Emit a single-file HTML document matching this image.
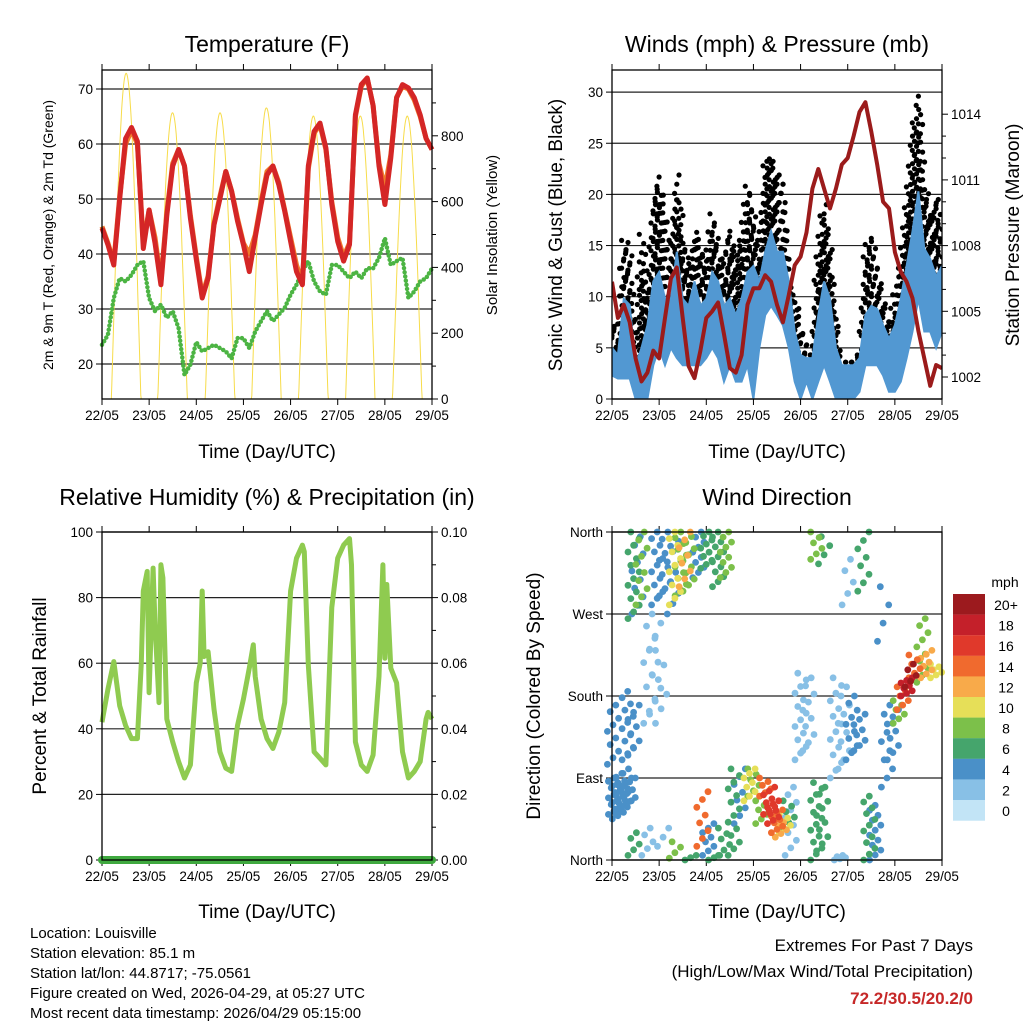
<!DOCTYPE html>
<html><head><meta charset="utf-8"><title>Station meteogram</title>
<style>
html,body{margin:0;padding:0;background:#fff;}
svg{display:block;font-family:"Liberation Sans",Arial,sans-serif;}
</style></head>
<body>
<svg id="chart" width="1024" height="1024" viewBox="0 0 1024 1024" xmlns="http://www.w3.org/2000/svg">
<rect x="0" y="0" width="1024" height="1024" fill="#fff"/>
<text x="267" y="52" font-size="23" text-anchor="middle">Temperature (F)</text>
<text x="777" y="52" font-size="23" text-anchor="middle">Winds (mph) &amp; Pressure (mb)</text>
<text x="267" y="505" font-size="23" text-anchor="middle">Relative Humidity (%) &amp; Precipitation (in)</text>
<text x="777" y="505" font-size="23" text-anchor="middle">Wind Direction</text>
<text x="267" y="458" font-size="19" text-anchor="middle">Time (Day/UTC)</text>
<text x="777" y="458" font-size="19" text-anchor="middle">Time (Day/UTC)</text>
<text x="267" y="918" font-size="19" text-anchor="middle">Time (Day/UTC)</text>
<text x="777" y="918" font-size="19" text-anchor="middle">Time (Day/UTC)</text>
<text transform="translate(53,235) rotate(-90)" font-size="14" text-anchor="middle">2m &amp; 9m T (Red, Orange) &amp; 2m Td (Green)</text>
<text transform="translate(497,235) rotate(-90)" font-size="15" text-anchor="middle">Solar Insolation (Yellow)</text>
<text transform="translate(562,235) rotate(-90)" font-size="19" text-anchor="middle">Sonic Wind &amp; Gust (Blue, Black)</text>
<text transform="translate(1019,235) rotate(-90)" font-size="19" text-anchor="middle">Station Pressure (Maroon)</text>
<text transform="translate(46,696) rotate(-90)" font-size="19" text-anchor="middle">Percent &amp; Total Rainfall</text>
<text transform="translate(540,696) rotate(-90)" font-size="19" text-anchor="middle">Direction (Colored By Speed)</text>
<g font-size="15">
<text x="30" y="938">Location: Louisville</text>
<text x="30" y="958">Station elevation: 85.1 m</text>
<text x="30" y="978">Station lat/lon: 44.8717; -75.0561</text>
<text x="30" y="998">Figure created on Wed, 2026-04-29, at 05:27 UTC</text>
<text x="30" y="1018">Most recent data timestamp: 2026/04/29 05:15:00</text>
</g>
<text x="973" y="951" font-size="17" text-anchor="end">Extremes For Past 7 Days</text>
<text x="973" y="977" font-size="17" text-anchor="end">(High/Low/Max Wind/Total Precipitation)</text>
<text x="973" y="1004" font-size="17" font-weight="bold" fill="#c62828" text-anchor="end">72.2/30.5/20.2/0</text>
<text x="1005" y="587" font-size="14" text-anchor="middle">mph</text>
</svg>
<script>
// ---------- data ----------
const days = ["22/05","23/05","24/05","25/05","26/05","27/05","28/05","29/05"];
const hours3 = [0,3,6,9,12,15,18,21,24,27,30,33,36,39,42,45,48,51,54,57,60,63,66,69,72,75,78,81,84,87,90,93,96,99,102,105,108,111,114,117,120,123,126,129,132,135,138,141,144,147,150,153,156,159,162,165,168];
const tempRed = [44.7,41.7,38,50,61,63,60.5,41,48,42,34.4,47,56,59,56,46.5,39,32,35.6,45.3,50,55,51.4,46,41.7,36.8,43,49,54.4,56,52.6,47.8,42.3,36.8,34.4,56,62.3,63.8,59.3,49,42.3,38.7,41.7,65.3,70.8,72,67,56,49,57.5,68.4,70.8,70.2,68.4,65.3,61,59];
const tempOrange = [45,42,38.5,50.5,60,62.5,60,42,48,43,35,47.5,56.5,59,56,47,39.5,32.5,36,45.5,50.5,55,51.5,46.5,42,40,43.5,49.5,55,56,53,48,43,38,34.8,55.5,62,63.5,59,49.5,43,39.5,42,65,70.5,72,67,56.5,52,58,68.5,70.5,70,68,65,61,59];
const dewGreen = [23.5,25.3,32,35.6,35,36.2,38,38.7,32,29.6,30.8,28.4,29.6,26.5,18,19.9,24,22.3,22.9,23.5,22.9,22.3,21,24.7,24.7,22.9,25.9,27.8,29.6,27.8,29,30.2,32.6,34.4,36.8,38.7,35,33.2,32.6,38,38,36.8,35.6,36.8,35.6,37.4,37.4,39.3,42.9,38,38.7,39.3,32,33.2,35,35.6,37.4];
const solarPeakHours = [12.3,35.9,60.1,83.7,107.6,131.5,155.4];
const solarPeakValues = [990,870,870,885,860,860,860];
const pressure = [1006.35,1004.7,1005.3,1004.5,1002.85,1001.8,1002.2,1003.2,1002.85,1004.7,1006.5,1007,1004.7,1002.5,1001.95,1003.2,1004.7,1005,1005.4,1003.95,1002.4,1002.2,1003,1005.3,1006.05,1006.05,1006.65,1006.35,1005.3,1004.5,1005.75,1007.1,1007.5,1008.6,1010.6,1011.5,1010.6,1009.7,1010.6,1011.7,1012,1013,1014.1,1014.55,1013.2,1011.7,1010,1009.7,1007.7,1006.8,1006.35,1005.6,1004.1,1002.85,1001.6,1002.55,1002.4];
const windMax = [5,4.3,9.8,9.2,3.3,5,7.2,11.5,12.4,9.8,9.8,14.4,9.8,9.1,11.5,9.1,9.8,12.4,11.5,9.1,9.8,8.2,9.8,12.4,13,11.5,14.4,16.4,14.4,14.4,11.5,6.6,4.3,4,4,8.2,11.5,9.8,5,3.3,3.3,3.3,4,8.2,9.1,8.8,7.2,5.9,7.2,9.8,13,16.4,20.3,14.7,13.7,12,13];
const windMin = [2.3,2,2,2,0,0,0,3.3,5,3.3,5,4,3.3,3.3,3.3,3.3,4,5,4,1.7,3.3,1.7,1.7,3.3,0,5,8.2,9.1,8.2,7.2,5,1.7,0,1.7,0,1.7,3.3,1.7,0,0,0,0,0.7,3.3,3.3,3.3,2.3,0.7,0.7,1.7,4,6.6,9.8,6.6,6.6,5,6.6];
const gustMax = [8.2,6.9,16,14.4,4,16.4,9.8,19.6,21.9,18.6,14.4,22.5,15.7,13,16.4,15.4,13,18.3,15,13,17,14.4,15.7,21.6,18,14.4,23.5,23.8,22.2,21.2,13,9.8,7.9,5,6.6,14.7,19.6,14.7,8.2,3.3,4,4.3,5,14.7,16,13,9.8,7.2,10.5,13,18.9,26,29.7,21.2,18,20.3,16.4];
const rhHours = [0,3,6,9,12,15,18,20,21,23,24,26,27,29,30,31,33,36,39,42,45,48,50,51,52,54,57,60,63,66,69,72,75,77,78,81,84,87,90,93,96,99,102,103,105,108,111,114,117,120,123,126,127,129,132,135,138,141,143,144,145,147,150,153,156,159,162,165,166,168];
const rhValues = [42,52,60.5,47,41,37,37,60,82,88,51,89,72,48,90,86,43,36,30,25,29,54,60,82,62,63.5,46,33,28,27,41,49,58.5,65.6,56,43,37,34,39,48,82,92,96,94,59.5,33,31,29,77,92,96,98,90,36,29,27,32,56,90,61.5,84,58.5,54,33,25,27,30,43,45,43];
const rainTotal = [0,0];
const dirHours = [1,3,5,7,9,0.5,8,11,11,13,15,19,22,25,23,27,31,32,35,37,39,44,48,54,58,11,18,26,32,40,46,49,52,57,62,65,70,72,76,78,80,82,84,86,88,90,91,96,100,104,107,104,108,114,118,122,126,116,128,131,134,140,143,146,148,150,152,154,158,160,165,120,138];
const dirStart = [50,45,50,55,60,105,110,115,265,270,280,150,160,150,280,290,270,280,290,300,295,310,320,300,310,5,5,15,2,0,15,5,0,5,5,40,65,70,40,70,50,40,30,25,30,35,5,110,120,0,10,330,325,90,100,110,120,0,295,0,0,80,110,150,165,180,190,200,195,200,200,280,240];
const dirEnd = [90,85,95,100,90,170,185,170,360,355,360,270,260,230,360,360,350,360,360,360,355,360,360,360,360,30,35,35,20,5,75,40,5,35,100,100,100,100,65,90,80,65,55,45,50,65,80,205,200,85,80,360,355,200,190,180,160,5,360,70,60,170,165,175,190,200,215,225,265,230,215,330,300];
const dirSpeed = [4,4,4,3,4,4,4,4,6,4,7,2,1,1,4,4,3,10,8,12,7,4,5,6,7,6,1,1,7,6,13,4,5,6,5,4,10,8,7,14,16,15,13,12,9,6,2,1,1,6,5,8,6,2,2,3,4,2,5,6,4,3,4,8,14,18,20,14,7,11,10,2,3];
const dirCount = [12,12,12,10,8,10,12,8,14,10,10,10,8,6,12,10,8,12,12,8,10,10,10,12,10,5,5,3,4,3,8,8,3,6,14,8,8,6,6,6,8,8,8,6,6,6,10,14,10,14,10,6,4,14,10,10,8,5,8,12,12,10,8,6,6,8,5,6,10,8,6,5,4];
const cbLabels = ["20+","18","16","14","12","10","8","6","4","2","0"];
const cbColors = ["#9c1a1e","#c4202a","#e0392b","#f06a2e","#f8aa4a","#e6df58","#7cc04a","#45a56c","#4a90c8","#88c0e6","#c2e4f6"];

// ---------- helpers ----------
const NS = "http://www.w3.org/2000/svg";
const svg = document.getElementById("chart");
function add(parent, tag, attrs){ const e=document.createElementNS(NS,tag); for(const k in attrs) e.setAttribute(k,attrs[k]); parent.appendChild(e); return e; }
function grp(nm){ const g=add(svg,"g",{});
 
 
 return g; }
function speedColor(s){ let i=Math.round(s/2); if(i>10)i=10; if(i<0)i=0; return cbColors[10-i]; }

const P1={x0:102,x1:432,y0:70,y1:399}, P2={x0:612,x1:942,y0:70,y1:399}, P3={x0:102,x1:432,y0:532,y1:860}, P4={x0:612,x1:942,y0:532,y1:860};
function xh(h,P){ return P.x0 + h/168*(P.x1-P.x0); }
const yT = t => 364-(t-20)*5.5;
const yS = s => 399-s*0.329;
const yW = w => 399-w*10.23;
const yP = p => 377-(p-1002)*21.9;
const yR = r => 860-r*3.28;
const yRain = v => 860-v*3280;
const yD = d => 860-d/360*328;

function pathFrom(xs, ys){ return xs.map((x,i)=>(i?"L":"M")+x.toFixed(1)+" "+ys[i].toFixed(1)).join(" "); }

// ---------- grids, ticks, frames ----------
function xAxis(P, nm){
 const g=grp(nm);
 days.forEach((d,i)=>{
  const x=P.x0+i*(P.x1-P.x0)/7;
  const t=add(g,"line",{x1:x,x2:x,y1:P.y1,y2:P.y1+6,stroke:"#000","stroke-width":1});
  
  
  const t2=add(g,"line",{x1:x,x2:x,y1:P.y0,y2:P.y0-6,stroke:"#000","stroke-width":1});
  
  
  const l=add(g,"text",{x:x,y:P.y1+21,"font-size":13.5,"text-anchor":"middle"}); l.textContent=d;
  
  
 });
}
function yGrid(P, vals, yf, labels, nm, side){
 const g=grp(nm);
 vals.forEach((v,i)=>{
  const y=yf(v);
  if(side==="left"){
   const gl=add(g,"line",{x1:P.x0,x2:P.x1,y1:y,y2:y,stroke:"#222","stroke-width":1.2});
   
   
   const t=add(g,"line",{x1:P.x0-6,x2:P.x0,y1:y,y2:y,stroke:"#000"});
   
   
   const l=add(g,"text",{x:P.x0-9,y:y+5,"font-size":13.5,"text-anchor":"end"}); l.textContent=labels[i];
   
   
  } else {
   const t=add(g,"line",{x1:P.x1,x2:P.x1+6,y1:y,y2:y,stroke:"#000"});
   
   
   const l=add(g,"text",{x:P.x1+9,y:y+5,"font-size":13.5,"text-anchor":"start"}); l.textContent=labels[i];
   
   
  }
 });
}
function minorTicks(P, vals, yf, nm){
 const g=grp(nm);
 vals.forEach(v=>{ const y=yf(v);
  const t=add(g,"line",{x1:P.x1,x2:P.x1+4,y1:y,y2:y,stroke:"#000"});
  
  
 });
}
function frame(P,nm){
 const r=add(svg,"rect",{x:P.x0,y:P.y0,width:P.x1-P.x0,height:P.y1-P.y0,fill:"none",stroke:"#000","stroke-width":1.3});
 
 
}

yGrid(P1,[20,30,40,50,60,70],yT,["20","30","40","50","60","70"],"temperature-y-axis","left");
yGrid(P1,[0,200,400,600,800],yS,["0","200","400","600","800"],"solar-y-axis","right");
minorTicks(P1,[100,300,500,700,900],yS,"solar-minor-ticks");
yGrid(P2,[0,5,10,15,20,25,30],yW,["0","5","10","15","20","25","30"],"wind-y-axis","left");
yGrid(P2,[1002,1005,1008,1011,1014],yP,["1002","1005","1008","1011","1014"],"pressure-y-axis","right");
minorTicks(P2,[1003,1004,1006,1007,1009,1010,1012,1013],yP,"pressure-minor-ticks");
yGrid(P3,[0,20,40,60,80,100],yR,["0","20","40","60","80","100"],"humidity-y-axis","left");
yGrid(P3,[0,0.02,0.04,0.06,0.08,0.1],yRain,["0.00","0.02","0.04","0.06","0.08","0.10"],"rain-y-axis","right");
minorTicks(P3,[0.01,0.03,0.05,0.07,0.09],yRain,"rain-minor-ticks");
yGrid(P4,[0,90,180,270,360],yD,["North","East","South","West","North"],"direction-y-axis","left");
[P1,P2,P3,P4].forEach((P,i)=>xAxis(P,"x-axis-"+(i+1)));

// ---------- panel 1: temperature ----------
const g1=grp("temperature-series");
(function(){
 const xs=[], ys=[];
 for(let h=0;h<=168;h+=0.25){
  let v=0;
  solarPeakHours.forEach((ph,i)=>{ const d=h-ph; if(Math.abs(d)<7.5) v=Math.max(v, solarPeakValues[i]*Math.cos(d/7.5*Math.PI/2)); });
  xs.push(xh(h,P1)); ys.push(yS(v));
 }
 const p=add(g1,"path",{d:pathFrom(xs,ys),fill:"none",stroke:"#f7dc4a","stroke-width":1});
 
 
})();
const xs1=hours3.map(h=>xh(h,P1));
const dew=add(g1,"path",{d:pathFrom(xs1,dewGreen.map(yT)),fill:"none",stroke:"#4cb443","stroke-width":4.5,"stroke-dasharray":"0 4.2","stroke-linecap":"round","stroke-linejoin":"round"});


const orl=add(g1,"path",{d:pathFrom(xs1,tempOrange.map(yT)),fill:"none",stroke:"#f07a2c","stroke-width":5,"stroke-linejoin":"round"});


const rdl=add(g1,"path",{d:pathFrom(xs1,tempRed.map(yT)),fill:"none",stroke:"#d42626","stroke-width":5,"stroke-linejoin":"round"});



// ---------- panel 2: wind ----------
const g2=grp("wind-series");
const cp=add(svg,"clipPath",{id:"clip2"}); add(cp,"rect",{x:P2.x0,y:P2.y0,width:P2.x1-P2.x0,height:P2.y1-P2.y0});
g2.setAttribute("clip-path","url(#clip2)");
const gustG=add(g2,"g",{fill:"#000"});


for(let i=0;i<hours3.length-1;i++){
 for(let s=0;s<3;s++){
  const f=s/3, h=hours3[i]+3*f;
  const gm=gustMax[i]+(gustMax[i+1]-gustMax[i])*f;
  const bm=windMax[i]+(windMax[i+1]-windMax[i])*f;
  let k=0;
  for(let v=bm-1.5; v<=gm; v+=0.9){
   k++;
   const c=add(gustG,"circle",{cx:(xh(h,P2)+((s*5+k)%3-1)*2.2).toFixed(1),cy:yW(v).toFixed(1),r:2.6});
   
   
  }
 }
}
const xs2=hours3.map(h=>xh(h,P2));
const band=add(g2,"path",{d:pathFrom(xs2.concat(xs2.slice().reverse()), windMax.map(yW).concat(windMin.map(yW).reverse()))+"Z",fill:"#5298d2",stroke:"#5298d2","stroke-width":2});


const pl=add(g2,"path",{d:pathFrom(xs2,pressure.map(yP)),fill:"none",stroke:"#9b1b1b","stroke-width":4,"stroke-linejoin":"round"});



// ---------- panel 3: humidity ----------
const g3=grp("humidity-series");
const rh=add(g3,"path",{d:pathFrom(rhHours.map(h=>xh(h,P3)),rhValues.map(yR)),fill:"none",stroke:"#8fcb50","stroke-width":5,"stroke-linejoin":"round"});


const rain=add(g3,"line",{x1:P3.x0,x2:P3.x1,y1:yRain(rainTotal[0]),y2:yRain(rainTotal[1]),stroke:"#3fa93f","stroke-width":8,"stroke-linecap":"round"});



// ---------- panel 4: wind direction ----------
const g4=grp("direction-points");
const order=dirSpeed.map((s,i)=>i).sort((a,b)=>dirSpeed[a]-dirSpeed[b]);
order.forEach(i=>{
 const n=dirCount[i];
 for(let k=0;k<n;k++){
  const f=n>1?k/(n-1):0.5;
  const d=dirStart[i]+(dirEnd[i]-dirStart[i])*f;
  const c=add(g4,"circle",{cx:(xh(dirHours[i],P4)+(((k*7)%5)-2)*2.8).toFixed(1),cy:yD(d).toFixed(1),r:3.4,fill:speedColor(dirSpeed[i])});
  
  
 }
});

// colorbar
const gcb=grp("speed-colorbar");
cbColors.forEach((c,i)=>{
 const r=add(gcb,"rect",{x:953,y:594+i*20.6,width:32,height:20.7,fill:c});
 
 
 const t=add(gcb,"text",{x:1006,y:594+i*20.6+16,"font-size":14,"text-anchor":"middle"}); t.textContent=cbLabels[i];
 
 
});

frame(P1,"temperature-plot-frame"); frame(P2,"winds-plot-frame"); frame(P3,"humidity-plot-frame"); frame(P4,"direction-plot-frame");
</script>
</body></html>
